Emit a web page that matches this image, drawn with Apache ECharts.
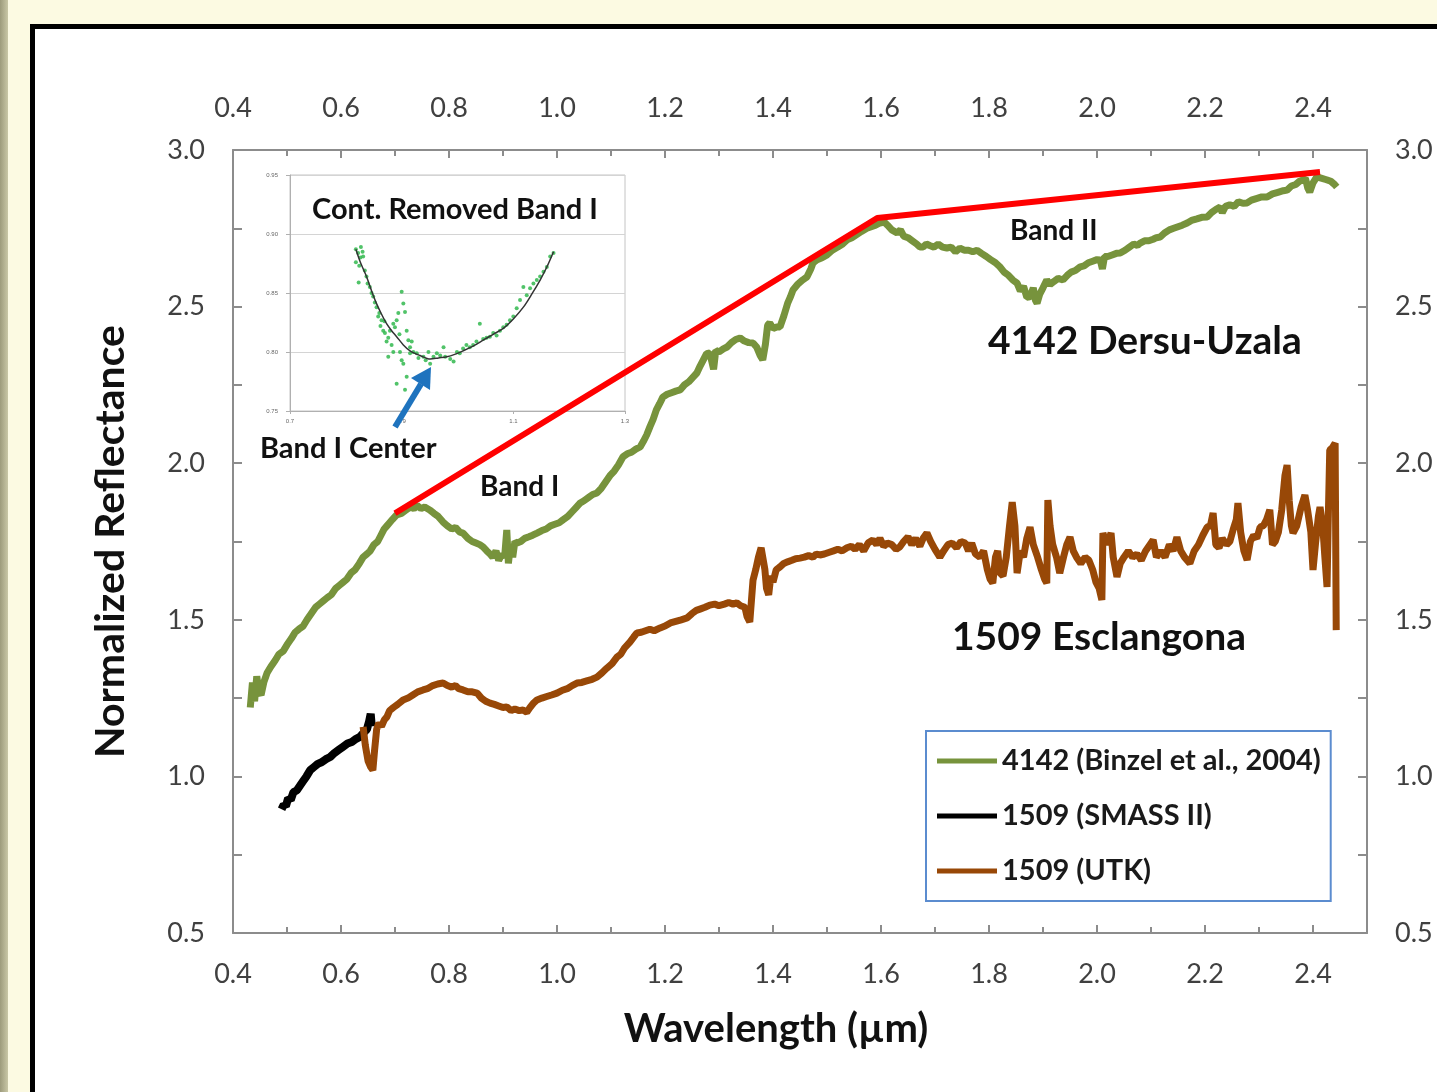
<!DOCTYPE html>
<html><head><meta charset="utf-8">
<script src="https://cdn.jsdelivr.net/npm/echarts@6/dist/echarts.min.js"></script>
<style>
html,body{margin:0;padding:0;}
body{width:1437px;height:1092px;overflow:hidden;background:#FCFAE2;position:relative;}
#strip{position:absolute;left:0;top:0;width:8px;height:1092px;background:linear-gradient(to right,#9d9b7c,#c9c7a6);}
#frame{position:absolute;left:30px;top:24px;width:1500px;height:1200px;border:5px solid #000;background:#fff;}
#chart{position:absolute;left:0;top:0;width:1437px;height:1092px;}
</style></head><body>
<div id="strip"></div><div id="frame"></div><div id="chart"></div>
<script>
// ---- data ----
const seriesNames = ['4142 (Binzel et al., 2004)', '1509 (SMASS II)', '1509 (UTK)'];
const green4142 = [[0.432,1.22],[0.436,1.30],[0.440,1.24],[0.444,1.32],[0.448,1.27],[0.452,1.26],[0.457,1.30],[0.463,1.33],[0.470,1.35],[0.478,1.37],[0.485,1.39],[0.493,1.40],[0.50,1.42],[0.508,1.44],[0.515,1.46],[0.522,1.47],[0.530,1.48],[0.537,1.50],[0.545,1.52],[0.553,1.54],[0.560,1.55],[0.567,1.56],[0.574,1.57],[0.582,1.58],[0.590,1.60],[0.597,1.61],[0.604,1.62],[0.611,1.63],[0.619,1.65],[0.626,1.66],[0.634,1.68],[0.641,1.70],[0.648,1.71],[0.654,1.72],[0.661,1.74],[0.668,1.75],[0.674,1.77],[0.680,1.79],[0.685,1.80],[0.690,1.81],[0.695,1.82],[0.703,1.835],[0.712,1.84],[0.720,1.85],[0.728,1.86],[0.735,1.855],[0.741,1.865],[0.748,1.855],[0.755,1.86],[0.765,1.85],[0.772,1.84],[0.780,1.83],[0.789,1.812],[0.797,1.80],[0.805,1.79],[0.812,1.795],[0.820,1.78],[0.826,1.777],[0.835,1.76],[0.843,1.75],[0.850,1.745],[0.857,1.74],[0.863,1.733],[0.870,1.72],[0.876,1.71],[0.881,1.70],[0.887,1.72],[0.892,1.69],[0.898,1.71],[0.903,1.70],[0.907,1.787],[0.910,1.68],[0.914,1.74],[0.918,1.70],[0.922,1.75],[0.926,1.745],[0.933,1.75],[0.940,1.76],[0.948,1.765],[0.955,1.77],[0.963,1.777],[0.972,1.785],[0.980,1.79],[0.988,1.80],[0.996,1.805],[1.004,1.81],[1.011,1.819],[1.020,1.83],[1.028,1.845],[1.036,1.86],[1.043,1.873],[1.050,1.88],[1.058,1.89],[1.066,1.90],[1.074,1.905],[1.082,1.92],[1.090,1.94],[1.098,1.96],[1.106,1.975],[1.114,1.995],[1.122,2.02],[1.130,2.03],[1.138,2.035],[1.146,2.045],[1.154,2.052],[1.160,2.07],[1.166,2.09],[1.172,2.116],[1.178,2.14],[1.184,2.17],[1.190,2.19],[1.196,2.211],[1.204,2.22],[1.212,2.225],[1.220,2.23],[1.228,2.234],[1.236,2.25],[1.244,2.26],[1.252,2.275],[1.259,2.288],[1.265,2.31],[1.271,2.33],[1.277,2.35],[1.283,2.352],[1.290,2.30],[1.294,2.36],[1.300,2.355],[1.308,2.365],[1.315,2.371],[1.323,2.385],[1.331,2.395],[1.339,2.40],[1.347,2.39],[1.355,2.385],[1.363,2.384],[1.370,2.37],[1.376,2.345],[1.381,2.33],[1.386,2.38],[1.390,2.44],[1.394,2.448],[1.400,2.43],[1.407,2.435],[1.413,2.435],[1.420,2.47],[1.427,2.51],[1.432,2.53],[1.437,2.553],[1.445,2.57],[1.455,2.585],[1.463,2.595],[1.470,2.62],[1.474,2.639],[1.482,2.65],[1.490,2.655],[1.500,2.665],[1.510,2.68],[1.520,2.69],[1.529,2.70],[1.537,2.713],[1.546,2.72],[1.555,2.73],[1.564,2.74],[1.574,2.75],[1.582,2.755],[1.590,2.76],[1.598,2.767],[1.606,2.77],[1.612,2.76],[1.620,2.745],[1.630,2.735],[1.636,2.745],[1.642,2.725],[1.650,2.72],[1.658,2.71],[1.666,2.70],[1.672,2.69],[1.678,2.69],[1.684,2.70],[1.690,2.695],[1.698,2.69],[1.706,2.70],[1.714,2.69],[1.722,2.687],[1.730,2.69],[1.738,2.675],[1.746,2.687],[1.754,2.68],[1.762,2.68],[1.770,2.675],[1.778,2.68],[1.786,2.67],[1.795,2.66],[1.803,2.65],[1.812,2.64],[1.820,2.627],[1.828,2.61],[1.836,2.60],[1.844,2.585],[1.852,2.575],[1.858,2.55],[1.864,2.565],[1.870,2.53],[1.876,2.531],[1.882,2.56],[1.886,2.52],[1.889,2.511],[1.894,2.54],[1.900,2.56],[1.907,2.585],[1.913,2.57],[1.920,2.58],[1.928,2.59],[1.937,2.585],[1.945,2.60],[1.952,2.61],[1.960,2.615],[1.969,2.627],[1.976,2.63],[1.984,2.64],[1.992,2.645],[2.000,2.65],[2.006,2.649],[2.010,2.62],[2.014,2.66],[2.020,2.66],[2.028,2.665],[2.036,2.67],[2.043,2.671],[2.052,2.68],[2.060,2.69],[2.068,2.70],[2.075,2.695],[2.080,2.703],[2.088,2.71],[2.096,2.71],[2.104,2.715],[2.110,2.72],[2.117,2.722],[2.125,2.735],[2.134,2.745],[2.142,2.75],[2.150,2.755],[2.158,2.76],[2.167,2.767],[2.175,2.775],[2.185,2.78],[2.194,2.785],[2.204,2.786],[2.212,2.80],[2.220,2.81],[2.228,2.818],[2.232,2.80],[2.238,2.82],[2.246,2.825],[2.254,2.82],[2.262,2.835],[2.270,2.83],[2.278,2.831],[2.286,2.84],[2.295,2.845],[2.305,2.85],[2.315,2.85],[2.325,2.86],[2.335,2.865],[2.345,2.87],[2.352,2.872],[2.360,2.885],[2.368,2.89],[2.375,2.90],[2.381,2.904],[2.386,2.91],[2.390,2.88],[2.394,2.866],[2.400,2.895],[2.407,2.914],[2.415,2.91],[2.425,2.905],[2.433,2.90],[2.440,2.89],[2.444,2.882]];
const black1509 = [[0.490,0.895],[0.494,0.91],[0.498,0.905],[0.502,0.93],[0.507,0.925],[0.512,0.95],[0.518,0.955],[0.524,0.97],[0.530,0.985],[0.536,1.0],[0.543,1.02],[0.550,1.03],[0.557,1.04],[0.564,1.045],[0.572,1.055],[0.580,1.062],[0.588,1.075],[0.596,1.085],[0.604,1.095],[0.612,1.105],[0.620,1.11],[0.628,1.12],[0.635,1.126],[0.642,1.14],[0.648,1.15],[0.652,1.175],[0.655,1.20],[0.657,1.16]];
const brown1509 = [[0.641,1.158],[0.645,1.10],[0.650,1.05],[0.655,1.03],[0.659,1.02],[0.662,1.08],[0.666,1.15],[0.670,1.17],[0.675,1.16],[0.680,1.18],[0.685,1.19],[0.690,1.21],[0.697,1.22],[0.705,1.23],[0.715,1.244],[0.724,1.25],[0.733,1.26],[0.742,1.27],[0.752,1.276],[0.760,1.28],[0.770,1.29],[0.779,1.295],[0.789,1.298],[0.797,1.29],[0.805,1.285],[0.812,1.29],[0.818,1.28],[0.826,1.276],[0.835,1.27],[0.843,1.27],[0.852,1.266],[0.860,1.25],[0.868,1.24],[0.876,1.234],[0.884,1.23],[0.892,1.225],[0.900,1.22],[0.907,1.222],[0.915,1.21],[0.922,1.215],[0.930,1.21],[0.937,1.212],[0.944,1.205],[0.950,1.22],[0.957,1.235],[0.963,1.244],[0.972,1.25],[0.981,1.255],[0.990,1.26],[1.000,1.266],[1.010,1.275],[1.019,1.28],[1.028,1.29],[1.037,1.298],[1.046,1.30],[1.055,1.305],[1.065,1.31],[1.074,1.317],[1.083,1.33],[1.092,1.345],[1.102,1.36],[1.111,1.381],[1.118,1.39],[1.125,1.41],[1.135,1.429],[1.142,1.445],[1.148,1.458],[1.156,1.46],[1.164,1.465],[1.172,1.47],[1.180,1.465],[1.191,1.474],[1.200,1.48],[1.210,1.49],[1.220,1.495],[1.230,1.50],[1.241,1.506],[1.250,1.52],[1.258,1.53],[1.266,1.535],[1.274,1.54],[1.283,1.547],[1.292,1.55],[1.300,1.545],[1.310,1.55],[1.318,1.555],[1.326,1.55],[1.333,1.554],[1.340,1.545],[1.348,1.54],[1.352,1.51],[1.357,1.493],[1.360,1.56],[1.363,1.627],[1.368,1.66],[1.373,1.70],[1.378,1.73],[1.381,1.73],[1.385,1.66],[1.388,1.60],[1.392,1.58],[1.396,1.64],[1.400,1.62],[1.406,1.66],[1.413,1.669],[1.420,1.68],[1.427,1.685],[1.435,1.69],[1.442,1.695],[1.450,1.697],[1.458,1.70],[1.466,1.705],[1.474,1.70],[1.480,1.71],[1.487,1.707],[1.495,1.71],[1.503,1.715],[1.512,1.72],[1.520,1.725],[1.528,1.72],[1.537,1.73],[1.545,1.735],[1.552,1.725],[1.560,1.74],[1.568,1.72],[1.576,1.745],[1.585,1.755],[1.592,1.74],[1.598,1.76],[1.605,1.735],[1.612,1.745],[1.620,1.74],[1.628,1.725],[1.635,1.733],[1.642,1.75],[1.650,1.765],[1.657,1.74],[1.664,1.76],[1.672,1.735],[1.678,1.76],[1.685,1.777],[1.692,1.75],[1.700,1.725],[1.709,1.70],[1.716,1.72],[1.724,1.74],[1.732,1.745],[1.740,1.73],[1.748,1.75],[1.756,1.745],[1.762,1.72],[1.768,1.745],[1.775,1.71],[1.783,1.70],[1.790,1.72],[1.797,1.66],[1.802,1.63],[1.807,1.617],[1.812,1.70],[1.816,1.72],[1.820,1.65],[1.826,1.64],[1.832,1.70],[1.838,1.80],[1.843,1.876],[1.848,1.80],[1.852,1.649],[1.858,1.72],[1.864,1.70],[1.870,1.76],[1.876,1.796],[1.882,1.74],[1.890,1.70],[1.897,1.66],[1.903,1.63],[1.907,1.617],[1.909,1.882],[1.913,1.80],[1.918,1.74],[1.925,1.70],[1.931,1.649],[1.938,1.70],[1.944,1.74],[1.950,1.764],[1.956,1.72],[1.962,1.70],[1.970,1.68],[1.978,1.70],[1.985,1.69],[1.992,1.66],[1.998,1.62],[2.004,1.60],[2.009,1.563],[2.011,1.777],[2.018,1.74],[2.026,1.777],[2.030,1.70],[2.037,1.637],[2.043,1.68],[2.050,1.70],[2.058,1.72],[2.066,1.70],[2.074,1.71],[2.082,1.69],[2.090,1.72],[2.098,1.74],[2.104,1.755],[2.110,1.70],[2.118,1.72],[2.126,1.70],[2.134,1.74],[2.141,1.72],[2.148,1.764],[2.155,1.72],[2.162,1.70],[2.172,1.68],[2.180,1.72],[2.188,1.74],[2.196,1.77],[2.204,1.796],[2.210,1.80],[2.215,1.841],[2.220,1.74],[2.226,1.73],[2.232,1.76],[2.240,1.74],[2.246,1.75],[2.252,1.787],[2.258,1.82],[2.261,1.873],[2.266,1.78],[2.272,1.72],[2.278,1.691],[2.284,1.75],[2.290,1.77],[2.296,1.76],[2.302,1.796],[2.308,1.80],[2.314,1.82],[2.320,1.851],[2.325,1.74],[2.330,1.75],[2.336,1.78],[2.342,1.85],[2.348,1.96],[2.352,1.994],[2.356,1.88],[2.360,1.80],[2.363,1.777],[2.370,1.80],[2.378,1.86],[2.385,1.898],[2.390,1.85],[2.396,1.78],[2.400,1.659],[2.405,1.75],[2.410,1.83],[2.413,1.86],[2.418,1.80],[2.422,1.70],[2.426,1.605],[2.428,1.80],[2.431,2.042],[2.436,2.05],[2.441,2.064],[2.443,1.467]];
const continuumLine = [[0.70,1.84],[1.593,2.783],[2.413,2.93]];
const insetPoints = [[0.818,0.887],[0.822,0.884],[0.827,0.889],[0.830,0.885],[0.831,0.881],[0.818,0.876],[0.824,0.873],[0.834,0.869],[0.823,0.859],[0.837,0.864],[0.843,0.855],[0.849,0.847],[0.855,0.838],[0.860,0.833],[0.864,0.827],[0.867,0.818],[0.870,0.816],[0.873,0.809],[0.879,0.818],[0.885,0.824],[0.888,0.821],[0.891,0.827],[0.894,0.833],[0.900,0.851],[0.903,0.841],[0.906,0.834],[0.909,0.818],[0.912,0.810],[0.915,0.804],[0.918,0.809],[0.921,0.800],[0.876,0.796],[0.885,0.800],[0.897,0.800],[0.900,0.793],[0.903,0.790],[0.909,0.779],[0.915,0.799],[0.927,0.799],[0.939,0.796],[0.948,0.800],[0.951,0.790],[0.957,0.796],[0.963,0.799],[0.975,0.804],[0.978,0.796],[0.987,0.794],[0.993,0.792],[0.999,0.800],[1.010,0.803],[1.022,0.804],[1.034,0.809],[1.040,0.824],[1.046,0.811],[1.058,0.813],[1.070,0.814],[1.082,0.821],[1.094,0.827],[1.106,0.837],[1.112,0.844],[1.118,0.855],[1.130,0.854],[1.136,0.858],[1.148,0.864],[1.160,0.872],[1.166,0.881],[1.172,0.884],[0.891,0.773],[0.906,0.768],[0.826,0.880],[0.839,0.858],[0.846,0.850],[0.852,0.842],[0.858,0.830],[0.862,0.822],[0.869,0.826],[0.876,0.812],[0.882,0.806],[0.896,0.815],[0.930,0.795],[0.943,0.793],[0.969,0.797],[1.004,0.799],[1.016,0.806],[1.028,0.806],[1.052,0.812],[1.064,0.816],[1.076,0.818],[1.088,0.823],[1.100,0.830],[1.124,0.848],[1.142,0.861],[1.154,0.868]];
const insetFit = [[0.818,0.887],[0.826,0.876],[0.837,0.864],[0.846,0.852],[0.855,0.841],[0.864,0.832],[0.873,0.824],[0.882,0.818],[0.891,0.813],[0.903,0.806],[0.915,0.801],[0.933,0.797],[0.951,0.794],[0.966,0.795],[0.981,0.796],[0.995,0.798],[1.010,0.801],[1.028,0.805],[1.046,0.810],[1.064,0.815],[1.082,0.820],[1.100,0.828],[1.118,0.838],[1.133,0.849],[1.148,0.861],[1.160,0.872],[1.172,0.885]];
const insetXTicks = [0.7, 0.9, 1.1, 1.3];

// ---- chart ----
const FONT = 'Lato, "Open Sans", sans-serif';
const AX = '#8c8c8c';
const TXT = '#404040';
function mainX(pos) {
  return {
    gridIndex: 0, type: 'value', position: pos, min: 0.4, max: 2.5, interval: 0.2,
    axisLine: {show: true, onZero: false, lineStyle: {color: AX, width: 2}},
    axisTick: {show: true, inside: true, length: 8, lineStyle: {color: AX, width: 2}},
    minorTick: {show: true, splitNumber: 2, length: 6, lineStyle: {color: AX, width: 2}},
    axisLabel: {margin: 28, fontSize: 27, color: TXT, fontFamily: FONT, showMaxLabel: false, formatter: v => v.toFixed(1)},
    splitLine: {show: false}
  };
}
function mainY(pos) {
  return {
    gridIndex: 0, type: 'value', position: pos, min: 0.5, max: 3.0, interval: 0.5,
    axisLine: {show: true, onZero: false, lineStyle: {color: AX, width: 2}},
    axisTick: {show: true, inside: true, length: 9, lineStyle: {color: AX, width: 2}},
    minorTick: {show: true, splitNumber: 2, length: 9, lineStyle: {color: AX, width: 2}},
    axisLabel: {margin: 28, fontSize: 27, color: TXT, fontFamily: FONT, formatter: v => v.toFixed(1)},
    splitLine: {show: false}
  };
}
const xb = mainX('bottom');
Object.assign(xb, {name: 'Wavelength (µm)', nameLocation: 'middle', nameGap: 76,
  nameTextStyle: {fontSize: 40, fontWeight: 'bold', color: '#111', fontFamily: FONT, padding: [0, 48, 0, 0]}});
const yl = mainY('left');
Object.assign(yl, {name: 'Normalized Reflectance', nameLocation: 'middle', nameGap: 102,
  nameTextStyle: {fontSize: 41, fontWeight: 'bold', color: '#111', fontFamily: FONT}});

const txt = (s, x, y, size, weight) => ({
  type: 'text', x: x, y: y, z: 10,
  style: {text: s, fill: '#111', fontSize: size, fontWeight: weight, fontFamily: FONT, align: 'left', verticalAlign: 'middle'}
});

const option = {
  animation: false,
  backgroundColor: 'transparent',
  grid: [
    {left: 233, top: 150, width: 1134, height: 783, show: false},
    {left: 290, top: 175, width: 335, height: 236, show: true, backgroundColor: '#fff', borderColor: '#c4c4c4', borderWidth: 1}
  ],
  xAxis: [xb, mainX('top'),
    {gridIndex: 1, type: 'value', min: 0.7, max: 1.3,
     axisLine: {show: true, onZero: false, lineStyle: {color: '#b0b0b0', width: 1}},
     axisTick: {show: true, length: 3, customValues: insetXTicks, lineStyle: {color: '#b0b0b0'}},
     axisLabel: {fontSize: 6, color: '#666', margin: 7, customValues: insetXTicks, formatter: v => v.toFixed(1)},
     splitLine: {show: false}}],
  yAxis: [yl, mainY('right'),
    {gridIndex: 1, type: 'value', min: 0.75, max: 0.95, interval: 0.05,
     axisLine: {show: true, onZero: false, lineStyle: {color: '#b0b0b0', width: 1}},
     axisTick: {show: true, length: 4, lineStyle: {color: '#b0b0b0'}},
     axisLabel: {fontSize: 6, color: '#666', margin: 12, formatter: v => v.toFixed(2)},
     splitLine: {show: true, lineStyle: {color: '#d4d4d4', width: 1}}}],
  legend: {
    orient: 'vertical', left: 926, top: 731, padding: [15, 10, 15, 11], itemGap: 25,
    itemWidth: 60, itemHeight: 5, icon: 'rect', borderColor: '#5B8CCF', borderWidth: 2,
    backgroundColor: '#fff', data: seriesNames,
    textStyle: {fontSize: 29, fontWeight: 'bold', color: '#1a1a1a', fontFamily: FONT, lineHeight: 30}
  },
  series: [
    {name: seriesNames[0], type: 'line', xAxisIndex: 0, yAxisIndex: 0, data: green4142, showSymbol: false,
     lineStyle: {color: '#77933C', width: 7}, itemStyle: {color: '#77933C'}, z: 3},
    {name: seriesNames[1], type: 'line', xAxisIndex: 0, yAxisIndex: 0, data: black1509, showSymbol: false,
     lineStyle: {color: '#000', width: 8}, itemStyle: {color: '#000'}, z: 3},
    {name: seriesNames[2], type: 'line', xAxisIndex: 0, yAxisIndex: 0, data: brown1509, showSymbol: false,
     lineStyle: {color: '#984807', width: 7}, itemStyle: {color: '#984807'}, z: 4},
    {name: 'continuum', type: 'line', xAxisIndex: 0, yAxisIndex: 0, data: continuumLine, showSymbol: false,
     lineStyle: {color: '#FF0000', width: 6}, itemStyle: {color: '#FF0000'}, z: 6},
    {name: 'inset points', type: 'scatter', xAxisIndex: 2, yAxisIndex: 2, data: insetPoints, symbolSize: 4,
     itemStyle: {color: '#33B84F', opacity: 0.85}, z: 3},
    {name: 'inset fit', type: 'line', xAxisIndex: 2, yAxisIndex: 2, data: insetFit, smooth: 0.3, showSymbol: false,
     lineStyle: {color: '#333', width: 1.5}, z: 4}
  ],
  graphic: [
    txt('Cont. Removed Band I', 312, 210, 29, 'bold'),
    txt('Band I Center', 260, 449, 29, 'bold'),
    txt('Band I', 480, 487, 28, 'bold'),
    txt('Band II', 1010, 231, 28, 'bold'),
    txt('4142 Dersu-Uzala', 988, 341, 39, 'bold'),
    txt('1509 Esclangona', 952, 637, 39, 'bold'),
    {type: 'polyline', z: 10, shape: {points: [[395, 427], [421, 384]]}, style: {stroke: '#1E73BE', lineWidth: 6}},
    {type: 'polygon', z: 10, shape: {points: [[431, 367], [411, 378], [430, 390]]}, style: {fill: '#1E73BE'}}
  ]
};
const chart = echarts.init(document.getElementById('chart'), null, {renderer: 'canvas'});
chart.setOption(option);
</script>
</body></html>
